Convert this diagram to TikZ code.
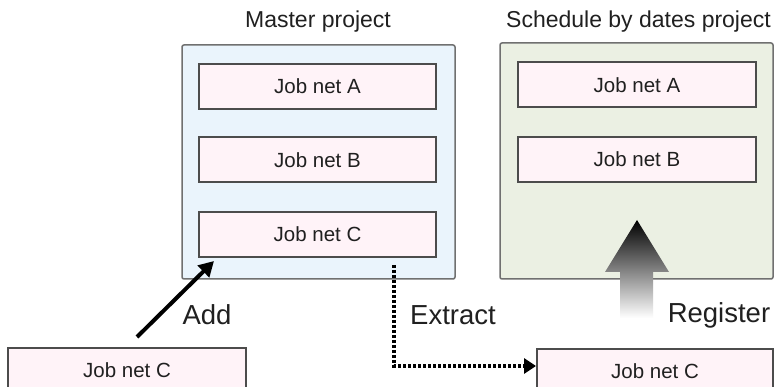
\documentclass[tikz,border=0pt]{standalone}
\usepackage{fontspec}
\setmainfont{Liberation Sans}
\usetikzlibrary{arrows.meta}
\definecolor{boxline}{HTML}{707070}
\definecolor{jobline}{HTML}{4C4C4C}
\definecolor{jobfill}{HTML}{FFF3F8}
\definecolor{masterfill}{HTML}{EAF4FC}
\definecolor{schedfill}{HTML}{EBF0E3}
\definecolor{txt}{HTML}{202020}
\tikzset{
  container/.style={draw=boxline, line width=1.5pt, rounded corners=2pt, inner sep=0pt},
  jobbox/.style={draw=jobline, fill=jobfill, line width=2pt, inner sep=0pt, minimum height=45pt, minimum width=237pt, text=txt, font=\fontsize{20.5}{24}\selectfont},
  title/.style={font=\fontsize{23}{27}\selectfont, inner sep=0pt, text=txt},
  lbl/.style={font=\fontsize{27.5}{32}\selectfont, inner sep=0pt, text=txt},
  addarrow/.style={line width=4pt, -{Triangle[length=15pt,width=16pt]}},
  extarrow/.style={line width=3.2pt, dash pattern=on 3pt off 2pt, -{Triangle[length=12pt,width=15pt]}}
}
\begin{document}
\begin{tikzpicture}[x=1pt,y=-1pt]
\clip (0,0) rectangle (774,387);
\fill[white] (0,0) rectangle (774,387);
% containers
\node[container, fill=masterfill, minimum width=273pt, minimum height=234pt] (master) at (318.5,162) {};
\node[container, fill=schedfill, minimum width=273pt, minimum height=236pt] (sched) at (636.5,161) {};
\node[title] (mtitle) at (318,22) {Master project};
\node[title] (stitle) at (638.5,22) {Schedule by dates project};
% job nets in master
\node[jobbox] (mA) at (317.5,86.5) {Job net A};
\node[jobbox] (mB) at (317.5,160) {Job net B};
\node[jobbox] (mC) at (317.5,234.5) {Job net C};
% job nets in schedule
\node[jobbox, minimum width=238pt] (sA) at (637,85) {Job net A};
\node[jobbox, minimum width=238pt] (sB) at (637,159.5) {Job net B};
% bottom job nets
\node[jobbox, minimum width=238pt] (botL) at (127,370.5) {Job net C};
\node[jobbox, minimum width=236pt] (botR) at (655,371.5) {Job net C};
% labels
\node[lbl] (add) at (207,315) {Add};
\node[lbl] (extract) at (453,315) {Extract};
\node[lbl] (register) at (719,315) {Register};
% add arrow
\coordinate (addstart) at (137,337);
\coordinate (addend) at (214,261);
\draw[addarrow] (addstart) -- (addend);
% extract arrow
\coordinate (exstart) at (394,265);
\draw[extarrow] (exstart) |- ([yshift=5.5pt]botR.west);
% register arrow
\shade[top color=black, bottom color=white]
  (637,220) -- (669,272) -- (653,272) -- (653,318) -- (620,318) -- (620,272) -- (605,272) -- cycle;
\end{tikzpicture}
\end{document}
